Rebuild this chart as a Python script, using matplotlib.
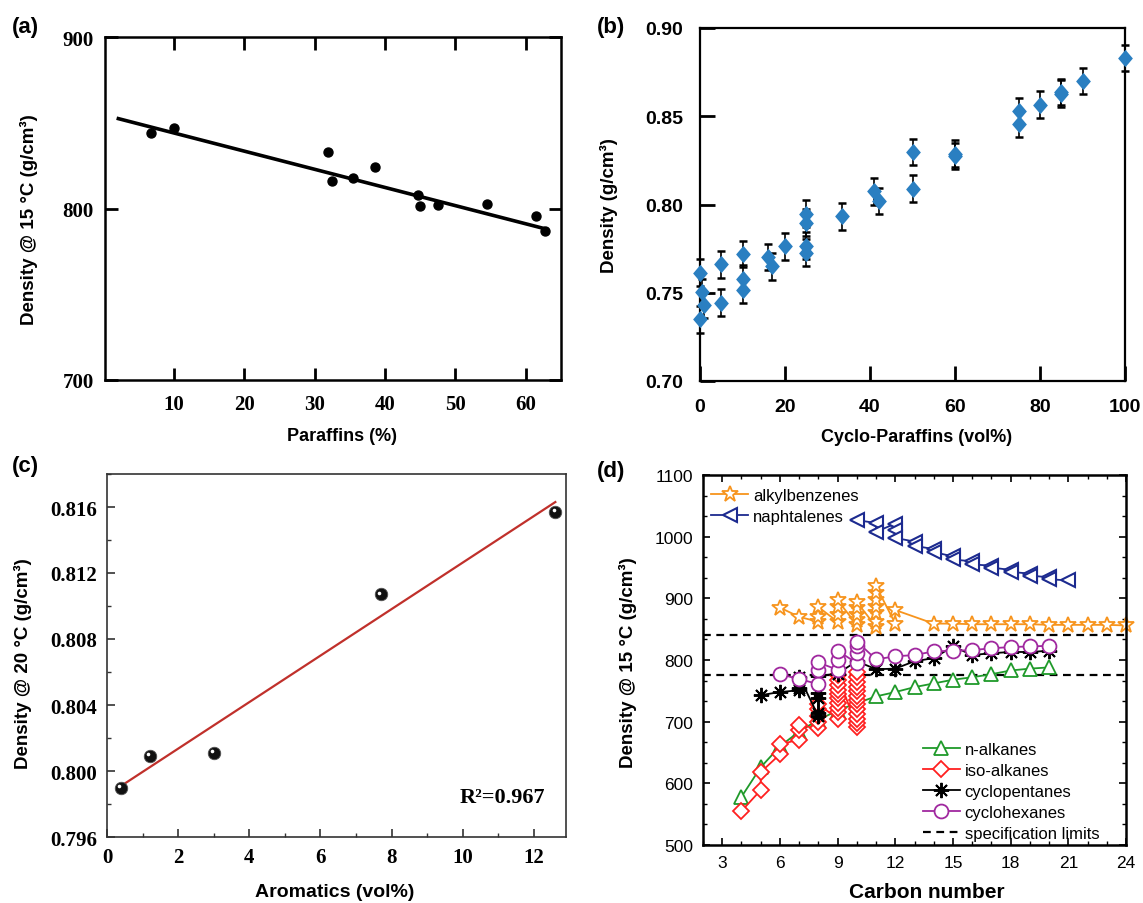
import matplotlib
matplotlib.use('Agg')
import matplotlib.pyplot as plt
from matplotlib.ticker import MultipleLocator, AutoMinorLocator, FormatStrFormatter
from matplotlib.transforms import offset_copy
from matplotlib.path import Path


# (a) density vs paraffins
par_x = [6.7, 10.0, 31.9, 32.5, 35.4, 38.5, 44.7, 45.0, 47.5, 54.5, 61.5, 62.7]
par_rho = [844, 847, 833, 816, 817.5, 824, 808, 801.6, 802, 802.5, 795.5, 787]
fit_a_x = [2.1, 62.9]
fit_a_rho = [852.4, 788]

# (b) density vs cyclo-paraffins, with error bars
cyc_x = [0, 0, 0.5, 1, 5, 5, 10, 10, 10, 16, 17, 20, 25, 25, 25, 25, 33.3, 41, 42,
         50, 50, 60, 60, 75, 75, 80, 85, 85, 90, 100]
cyc_rho = [0.7614, 0.7349, 0.7504, 0.7432, 0.7661, 0.7444, 0.7721, 0.7580, 0.7517,
           0.7703, 0.7650, 0.7763, 0.7948, 0.7897, 0.7767, 0.7727, 0.7933, 0.8075,
           0.8020, 0.8297, 0.8090, 0.8288, 0.8275, 0.8528, 0.8458, 0.8566, 0.8628,
           0.8637, 0.8700, 0.8830]
cyc_err = [0.0075] * len(cyc_x)

# (c) density vs aromatics
aro_x = [0.4, 1.2, 3.0, 7.7, 12.6]
aro_rho = [0.7990, 0.8009, 0.8011, 0.8107, 0.8157]
fit_c_x = [0.4, 12.6]
fit_c_rho = [0.7991, 0.8163]
r2_text = 'R²=0.967'

# (d) density vs carbon number
nalk_c = list(range(4, 21))
nalk_rho = [578, 626, 660, 684, 703, 718, 730, 741, 748, 756, 762, 768, 772, 777, 783, 786, 788]

iso_c = [4, 5, 5, 6, 6, 7, 7, 7, 8, 8, 8, 8, 8,
         9, 9, 9, 9, 9, 9, 9, 9, 9, 9,
         10, 10, 10, 10, 10, 10, 10, 10, 10, 10, 10, 10, 10]
iso_rho = [555, 589, 618, 647, 663, 671, 686, 694, 689, 700, 710, 720, 728,
           705, 715, 722, 730, 738, 745, 752, 760, 768, 775,
           692, 698, 705, 712, 720, 728, 735, 742, 750, 757, 765, 772, 780]

cpent_c = [5, 6, 7, 7, 7, 8, 8, 8, 8, 8, 9, 10, 11, 12, 13, 14, 15, 16, 17, 18, 19, 20]
cpent_rho = [743, 748, 751, 754, 773, 709, 714, 738, 746, 774, 778, 798, 785, 786,
             798, 803, 822, 808, 811, 813, 813, 815]

chex_c = [6, 7, 8, 8, 8, 9, 9, 9, 10, 10, 10, 10, 11, 12, 13, 14, 15, 16, 17, 18, 19, 20]
chex_rho = [777, 769, 761, 784, 796, 784, 800, 815, 795, 811, 823, 830, 801, 806, 808,
            814, 815, 816, 819, 821, 822, 823]

abenz_c = [6, 7, 8, 8, 8, 9, 9, 9, 9, 10, 10, 10, 10, 10,
           11, 11, 11, 11, 11, 11, 11, 12, 12,
           14, 15, 16, 17, 18, 19, 20, 21, 22, 23, 24]
abenz_rho = [885, 870, 862, 870, 886, 862, 873, 886, 897, 857, 865, 873, 884, 894,
             854, 862, 876, 886, 897, 908, 920, 859, 881,
             859, 859, 858, 858, 858, 858, 857, 857, 857, 857, 856]

naph_c = [10, 11, 11, 12, 12, 12, 13, 13, 14, 14, 15, 15, 16, 16, 17, 17,
          18, 18, 19, 19, 20, 20, 21]
naph_rho = [1027, 1022, 1008, 1021, 1011, 998, 992, 985, 980, 975, 968, 963, 960, 955,
            953, 950, 946, 943, 940, 937, 934, 931, 929]

spec_limits = [775, 840]

W, H = 1143, 904


def box(l, t, r, b):
    return [l / W, 1 - b / H, (r - l) / W, (b - t) / H]


plt.rcParams['font.family'] = ['Liberation Sans', 'DejaVu Sans']
fig = plt.figure(figsize=(W / 100, H / 100), dpi=100)

# ---------------- (a) ----------------
ax = fig.add_axes(box(105, 38, 561, 381))
ax.plot(fit_a_x, fit_a_rho, color='black', lw=2.6, zorder=2)
ax.scatter(par_x, par_rho, s=42, color='black', zorder=3)
ax.set_xlim(0.2, 65)
ax.set_ylim(700, 900)
ax.set_xticks([10, 20, 30, 40, 50, 60])
ax.set_yticks([700, 800, 900])
ax.tick_params(direction='in', length=9, width=2, top=True, right=True, labelsize=15, pad=8)
ax.tick_params(axis='x', pad=10)
for lab in ax.get_xticklabels() + ax.get_yticklabels():
    lab.set_family('Liberation Serif')
    lab.set_weight('bold')
for s in ax.spines.values():
    s.set_linewidth(1.8)
ax.set_xlabel('Paraffins (%)', fontsize=13, fontweight='bold', va='center')
ax.xaxis.set_label_coords(0.52, -0.163)
ax.set_ylabel('Density @ 15 °C (g/cm³)', fontsize=13.5, fontweight='bold', va='center')
ax.yaxis.set_label_coords(-0.167, 0.47)
fig.text(12 / W, 1 - 28 / H, '(a)', fontsize=16, fontweight='bold', va='center')

# ---------------- (b) ----------------
ax = fig.add_axes(box(700, 29, 1125, 382))
diamond = Path([(0, 1), (0.85, 0), (0, -1), (-0.85, 0), (0, 1)],
               [Path.MOVETO, Path.LINETO, Path.LINETO, Path.LINETO, Path.CLOSEPOLY])
ax.errorbar(cyc_x, cyc_rho, yerr=cyc_err, fmt='none', ecolor='black', elinewidth=1.2,
            capsize=2.8, capthick=1.8, zorder=2, clip_on=False)
ax.plot(cyc_x, cyc_rho, ls='none', marker=diamond, markersize=12.5, color='#2a7fc1',
        markeredgewidth=0, zorder=3, clip_on=False)
ax.set_xlim(0, 100)
ax.set_ylim(0.70, 0.90)
ax.set_xticks([0, 20, 40, 60, 80, 100])
ax.set_yticks([0.70, 0.75, 0.80, 0.85, 0.90])
ax.yaxis.set_major_formatter(FormatStrFormatter('%.2f'))
ax.tick_params(direction='in', length=11, width=2, labelsize=14, pad=12)
for lab in ax.get_xticklabels() + ax.get_yticklabels():
    lab.set_weight('bold')
for s in ax.spines.values():
    s.set_linewidth(1.6)
ax.set_xlabel('Cyclo-Paraffins (vol%)', fontsize=13, fontweight='bold', va='center')
ax.xaxis.set_label_coords(0.51, -0.156)
ax.set_ylabel('Density (g/cm³)', fontsize=13.5, fontweight='bold', va='center')
ax.yaxis.set_label_coords(-0.213, 0.5)
fig.text(597 / W, 1 - 28 / H, '(b)', fontsize=16, fontweight='bold', va='center')

# ---------------- (c) ----------------
ax = fig.add_axes(box(107, 475, 566, 838))
ax.plot(fit_c_x, fit_c_rho, color='#c0302b', lw=1.6, zorder=2)
ax.plot(aro_x, aro_rho, ls='none', marker='o', markersize=9, color='#111111',
        markeredgecolor='#555555', markeredgewidth=0.6, zorder=3, clip_on=False)
hl = offset_copy(ax.transData, fig=fig, x=-1.3, y=1.3, units='points')
ax.plot(aro_x, aro_rho, ls='none', marker='o', markersize=2.6, color='white',
        markeredgewidth=0, transform=hl, zorder=4, clip_on=False)
ax.text(12.3, 0.7984, r2_text, fontsize=16, fontweight='bold', family='Liberation Serif',
        ha='right', va='center')
ax.set_xlim(0, 12.9)
ax.set_ylim(0.796, 0.818)
ax.set_xticks([0, 2, 4, 6, 8, 10, 12])
ax.set_yticks([0.796, 0.800, 0.804, 0.808, 0.812, 0.816])
ax.yaxis.set_major_formatter(FormatStrFormatter('%.3f'))
ax.xaxis.set_minor_locator(MultipleLocator(1))
ax.yaxis.set_minor_locator(MultipleLocator(0.002))
ax.tick_params(which='major', direction='in', length=6, width=1.2, labelsize=15, pad=7,
               color='#333333')
ax.tick_params(which='minor', direction='in', length=3, width=1.0, color='#333333')
for lab in ax.get_xticklabels() + ax.get_yticklabels():
    lab.set_family('Liberation Serif')
    lab.set_weight('bold')
for s in ax.spines.values():
    s.set_linewidth(1.2)
    s.set_color('#333333')
ax.set_xlabel('Aromatics (vol%)', fontsize=14, fontweight='bold', va='center')
ax.xaxis.set_label_coords(0.495, -0.149)
ax.set_ylabel('Density @ 20 °C (g/cm³)', fontsize=13.5, fontweight='bold', va='center')
ax.yaxis.set_label_coords(-0.183, 0.48)
fig.text(12 / W, 1 - 467 / H, '(c)', fontsize=16, fontweight='bold', va='center')

# ---------------- (d) ----------------
ax = fig.add_axes(box(703, 476, 1126, 846))
ms = 10
ax.axhline(spec_limits[0], color='black', ls='--', lw=1.6, dashes=(3.5, 2.5), zorder=1)
ax.axhline(spec_limits[1], color='black', ls='--', lw=1.6, dashes=(3.5, 2.5), zorder=1)
h_nalk, = ax.plot(nalk_c, nalk_rho, color='#1f9a2a', marker='^', ms=ms, mfc='white', lw=1.3,
                  mew=1.3, label='n-alkanes')
h_iso, = ax.plot(iso_c, iso_rho, color='#ff2020', marker='D', ms=ms - 1.5, mfc='white', lw=1.3,
                 mew=1.3, label='iso-alkanes')
h_cp, = ax.plot(cpent_c, cpent_rho, color='black', marker=(8, 2, 0), ms=ms + 1, lw=1.3,
                mew=1.4, label='cyclopentanes')
h_ch, = ax.plot(chex_c, chex_rho, color='#a0289f', marker='o', ms=ms, mfc='white', lw=1.3,
                mew=1.3, label='cyclohexanes')
h_ab, = ax.plot(abenz_c, abenz_rho, color='#f7941d', marker='*', ms=ms + 2, mfc='white', lw=1.3,
                mew=1.3, label='alkylbenzenes', clip_on=False)
h_np, = ax.plot(naph_c, naph_rho, color='#1c2a8f', marker='<', ms=ms, mfc='white', lw=1.3,
                mew=1.5, label='naphtalenes')
h_spec, = ax.plot([], [], color='black', ls='--', lw=1.6, dashes=(3.5, 2.5),
                  label='specification limits')
ax.set_xlim(2, 24)
ax.set_ylim(500, 1100)
ax.set_xticks([3, 6, 9, 12, 15, 18, 21, 24])
ax.set_yticks([500, 600, 700, 800, 900, 1000, 1100])
ax.xaxis.set_minor_locator(AutoMinorLocator(3))
ax.yaxis.set_minor_locator(AutoMinorLocator(3))
ax.tick_params(which='major', direction='in', length=5, width=1.2, top=True, right=True,
               labelsize=12.5, pad=7)
ax.tick_params(which='minor', direction='in', length=3, width=1.0, top=True, right=True)
for s in ax.spines.values():
    s.set_linewidth(1.8)
ax.set_xlabel('Carbon number', fontsize=15, fontweight='bold', va='center')
ax.xaxis.set_label_coords(0.53, -0.127)
ax.set_ylabel('Density @ 15 °C (g/cm³)', fontsize=13.5, fontweight='bold', va='center')
ax.yaxis.set_label_coords(-0.178, 0.495)
fig.text(597 / W, 1 - 472 / H, '(d)', fontsize=16, fontweight='bold', va='center')

leg1 = ax.legend(handles=[h_ab, h_np], loc='upper left', bbox_to_anchor=(0.02, 0.965),
                 frameon=False, fontsize=12, borderpad=0, borderaxespad=0,
                 handlelength=2.2, handletextpad=0.3, labelspacing=0.35)
ax.add_artist(leg1)
ax.legend(handles=[h_nalk, h_iso, h_cp, h_ch, h_spec], loc='lower left',
          bbox_to_anchor=(0.52, 0.012), frameon=False, fontsize=12, borderpad=0,
          borderaxespad=0, handlelength=2.2, handletextpad=0.3, labelspacing=0.35)

fig.savefig('out.png', dpi=100)
